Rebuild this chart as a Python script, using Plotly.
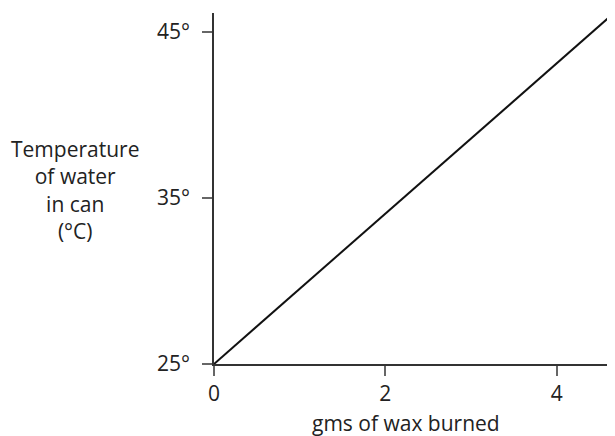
import plotly.graph_objects as go

line_x = [0, 4.68]
line_y = [25, 46.2]
x_ticks = [0, 2, 4]
x_tick_labels = ["0", "2", "4"]
y_ticks = [25, 35, 45]
y_tick_labels = ["25°", "35°", "45°"]

FONT = "Open Sans"
FS = 21

# page body has an 8px default margin -> compensate so nothing overflows
OFF = 8
W, H = 615 - OFF, 436 - OFF
l, r, t = 214 - OFF, 0, 13 - OFF
b = H - (364 - OFF)
pw, ph = W - l - r, H - t - b

fig = go.Figure()
fig.add_trace(go.Scatter(x=line_x, y=line_y, mode="lines",
                         line=dict(color="#111111", width=2), showlegend=False))

fig.update_layout(
    width=W, height=H,
    margin=dict(l=l, r=r, t=t, b=b),
    paper_bgcolor="white", plot_bgcolor="white",
    font=dict(family=FONT, size=FS, color="#222222"),
    xaxis=dict(range=[0, 4.68], tickvals=x_ticks, ticktext=x_tick_labels,
               showgrid=False, zeroline=False, showline=True, linecolor="#333333",
               linewidth=1.5, ticks="outside", ticklen=10, tickcolor="#666666",
               tickwidth=1.5, tickfont=dict(size=FS), ticklabelstandoff=0),
    yaxis=dict(range=[25, 46.15], tickvals=y_ticks, ticktext=y_tick_labels,
               showgrid=False, zeroline=False, showline=True, linecolor="#333333",
               linewidth=1.5, ticks="outside", ticklen=10, tickcolor="#666666",
               tickwidth=1.5, tickfont=dict(size=FS), ticklabelstandoff=8),
    annotations=[
        dict(text="gms of wax burned", x=(406 - 214) / 85.6, xref="x",
             y=(H - b - (423 - OFF)) / ph, yref="paper",
             yanchor="middle", xanchor="center", showarrow=False,
             font=dict(size=FS)),
        dict(text="Temperature<br>of water<br>in can<br>(°C)",
             x=(75 - OFF - l) / pw, y=(H - b - (190 - OFF)) / ph,
             xref="paper", yref="paper", showarrow=False, align="center",
             xanchor="center", yanchor="middle",
             font=dict(size=FS)),
    ],
)

fig.write_html("out.html")
